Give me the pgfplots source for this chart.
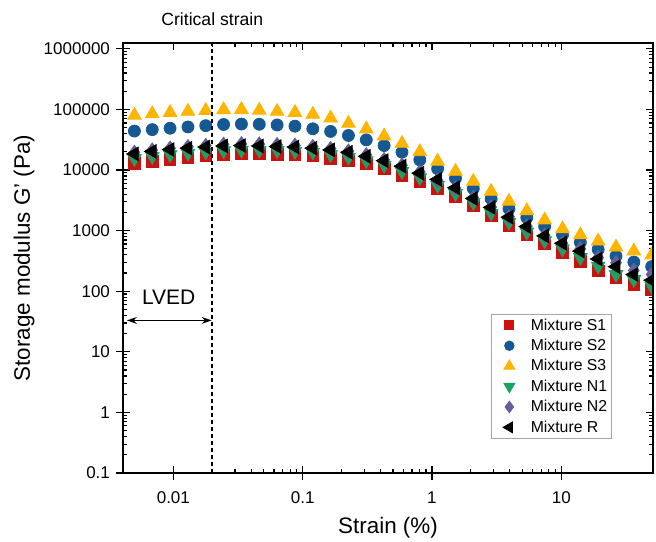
\documentclass[border=0pt]{standalone}
\usepackage{fontspec}
\setmainfont{Liberation Sans}
\usepackage{pgfplots}
\pgfplotsset{compat=1.18}
\usepackage{pgfplotstable}
\usetikzlibrary{arrows.meta}

\definecolor{cSone}{RGB}{204,17,17}
\definecolor{cStwo}{RGB}{22,88,145}
\definecolor{cSthree}{RGB}{255,180,0}
\definecolor{cNone}{RGB}{29,160,98}
\definecolor{cNtwo}{RGB}{98,96,150}

\pgfplotstableread{
x        S1     S2     S3      N1     N2     R
0.005    13000  44000  80000   15500  19500  18500
0.006869 14000  46500  85000   16800  21300  20300
0.009437 15000  49000  89000   18000  22800  21800
0.01297  16000  51500  93000   19000  24200  23000
0.01781  17000  54000  96000   20000  25300  24000
0.02447  18000  56500  99000   20800  26500  25000
0.03362  18500  57500  100000  21300  27000  25400
0.04618  18500  57000  97000   21300  26800  25000
0.06345  18300  55500  93000   21000  26200  24500
0.08717  18000  53000  89000   20500  25500  24000
0.1198   17300  48000  83000   19800  24300  23000
0.1645   15700  43400  72000   18000  22500  21500
0.2260   14300  37200  59000   16300  20500  19700
0.3105   12600  31500  47500   14300  17800  16900
0.4266   10400  25400  36500   12000  14800  14300
0.5861   8100   19700  27500   9500   12000  11600
0.8052   6500   14700  20000   7500   9300   8900
1.106    5000   10500  14000   5600   6800   7000
1.520    3700   7300   9500    4100   5000   5100
2.088    2600   4950   6500    2900   3500   3400
2.868    1780   3350   4450    1950   2450   2420
3.941    1230   2300   3050    1380   1700   1670
5.414    850    1640   2130    950    1180   1170
7.438    600    1170   1500    680    840    820
10.22    440    850    1070    500    620    620
14.04    310    640    850     360    500    460
19.29    215    490    670     260    360    340
26.50    167    380    535     190    296    254
36.40    130    303    460     156    220    189
50.0     107    255    395     121    189    152
}\data

\pgfplotsset{mylegend/.style={legend image code/.code={%
  \path[draw=none,fill=none] (0pt,-3pt) rectangle (17.7pt,3pt);
  \draw[mark repeat=2,mark phase=2,##1,every mark/.append style={scale=0.78}] plot coordinates {(0pt,0pt)(8pt,0pt)(16pt,0pt)};}}}

\begin{document}
\begin{tikzpicture}
\begin{axis}[
  scale only axis, width=265pt, height=215pt,
  xmode=log, ymode=log,
  xmin=0.00408, xmax=51.2, ymin=0.1, ymax=1.25e6,
  xtick={0.01,0.1,1,10}, xticklabels={0.01,0.1,1,10},
  ytick={0.1,1,10,100,1000,10000,100000,1000000},
  yticklabels={0.1,1,10,100,1000,10000,100000,1000000},
  tick align=inside,
  major tick length=3.5pt, minor tick length=2pt,
  axis line style={line width=0.7pt},
  tick style={line width=0.6pt, black},
  ticklabel style={font=\fontsize{8.5}{10}\selectfont},
  xticklabel style={yshift=-6pt}, yticklabel style={xshift=-3pt},
  xlabel={Strain (\%)}, ylabel={Storage modulus G' (Pa)},
  label style={font=\fontsize{11.2}{13}\selectfont},
  xlabel style={at={(axis description cs:0.5,-0.128)}, anchor=center},
  ylabel style={at={(axis description cs:-0.1868,0.5)}, anchor=center},
  clip marker paths=true,
  legend style={at={(rel axis cs:0.922,0.079)}, anchor=south east,
    draw=gray!70, line width=0.5pt, font=\fontsize{7.9}{9}\selectfont,
    inner xsep=1pt, inner ysep=0.5pt, row sep=0pt,
    nodes={text height=5.8pt, text depth=1pt, inner ysep=1.7pt, inner xsep=1pt}},
  legend cell align=left,
]
\coordinate (SW) at (rel axis cs:0,0);
\coordinate (CS) at (axis cs:0.02,1.25e6);
\addplot[only marks, mylegend, mark=square*, mark size=2.9pt, color=cSone] table[x=x,y=S1]{\data};
\addlegendentry{Mixture S1}
\addplot[only marks, mylegend, mark=*, mark size=3pt, color=cStwo] table[x=x,y=S2]{\data};
\addlegendentry{Mixture S2}
\addplot[only marks, mylegend, mark=triangle*, mark size=3.9pt, color=cSthree] table[x=x,y=S3]{\data};
\addlegendentry{Mixture S3}
\addplot[only marks, mylegend, mark=triangle*, mark size=3.9pt, mark options={rotate=180}, color=cNone] table[x=x,y=N1]{\data};
\addlegendentry{Mixture N1}
\addplot[only marks, mylegend, mark=diamond*, mark size=3.6pt, color=cNtwo] table[x=x,y=N2]{\data};
\addlegendentry{Mixture N2}
\addplot[only marks, mylegend, mark=triangle*, mark size=3.9pt, mark options={rotate=90}, color=black] table[x=x,y=R]{\data};
\addlegendentry{Mixture R}

\draw[line width=0.8pt, dash pattern=on 2.2pt off 1.3pt] (axis cs:0.02,0.1) -- (axis cs:0.02,1.25e6);
\node[font=\fontsize{10.5}{12}\selectfont, anchor=center] at (axis cs:0.0092,78) {LVED};
\draw[line width=0.75pt, {Stealth[length=5pt,width=3.4pt]}-{Stealth[length=5pt,width=3.4pt]}] (axis cs:0.00437,33) -- (axis cs:0.0198,33);
\end{axis}
\begin{axis}[
  scale only axis, width=265pt, height=215pt,
  xmode=log, ymode=log,
  xmin=0.00408, xmax=51.2, ymin=0.1, ymax=1.25e6,
  xtick={0.01,0.1,1,10}, xticklabels={},
  ytick={0.1,1,10,100,1000,10000,100000,1000000}, yticklabels={},
  tick align=outside, xtick pos=bottom, ytick pos=left,
  major tick length=3.5pt,
  axis line style={line width=0.7pt},
  tick style={line width=0.6pt, black},
  minor tick style={draw=none},
]
\end{axis}
\node[font=\fontsize{8.8}{10}\selectfont, anchor=center, yshift=12pt] at (CS) {Critical strain};
\pgfresetboundingbox
\path (SW) ++(-61.5pt,236.5pt) rectangle ++(328pt,-270.5pt);
\end{tikzpicture}
\end{document}
